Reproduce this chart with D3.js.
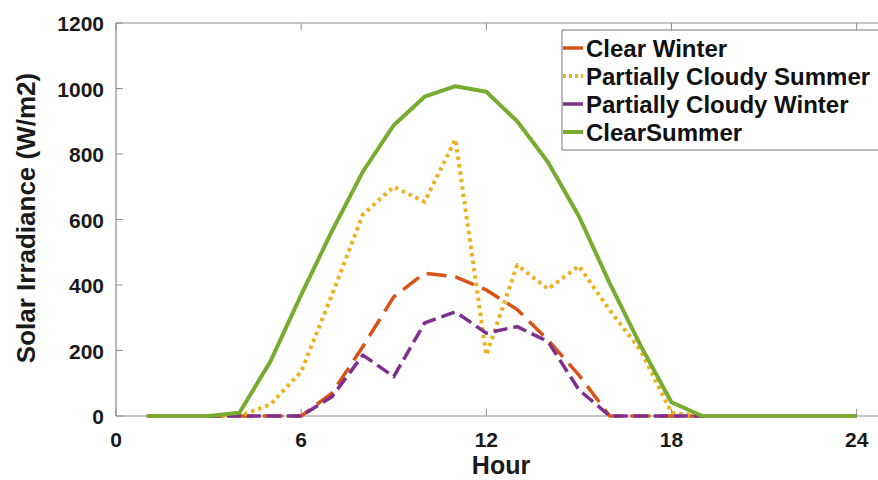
<!DOCTYPE html>
<html>
<head>
<meta charset="utf-8">
<script src="https://cdn.jsdelivr.net/npm/d3@7"></script>
<style>
  html, body { margin: 0; padding: 0; background: #fff; }
  svg { display: block; font-family: "Liberation Sans", Arial, sans-serif; }
</style>
</head>
<body>
<svg id="chart" width="878" height="480"></svg>
<script>
const hours = [1,2,3,4,5,6,7,8,9,10,11,12,13,14,15,16,17,18,19,20,21,22,23,24];
const clearWinter = [0,0,0,0,0,0,70,212,364,436,425,385,325,232,125,0,0,0,0,0,0,0,0,0];
const partlyCloudySummer = [0,0,0,0,35,135,370,615,700,654,845,186,461,388,458,323,200,10,0,0,0,0,0,0];
const partlyCloudyWinter = [0,0,0,0,0,0,59,186,120,284,318,253,273,227,80,0,0,0,0,0,0,0,0,0];
const clearSummer = [0,0,0,10,166,370,565,746,888,975,1007,990,900,775,610,405,215,42,0,0,0,0,0,0];
const seriesNames = ["Clear Winter","Partially Cloudy Summer","Partially Cloudy Winter","ClearSummer"];
const xTicks = [0,6,12,18,24];
const yTicks = [0,200,400,600,800,1000,1200];

const series = [
  {name: seriesNames[0], values: clearWinter, color: "#D95319", dash: "20,9", legDash: null, width: 3.5},
  {name: seriesNames[1], values: partlyCloudySummer, color: "#EDB120", dash: "3.5,4", legDash: "3,3", width: 4},
  {name: seriesNames[2], values: partlyCloudyWinter, color: "#7E2F8E", dash: "14,6", legDash: null, width: 3.5},
  {name: seriesNames[3], values: clearSummer, color: "#77AC30", dash: null, legDash: null, width: 4}
];

const svg = d3.select("#chart");
const plotLeft = 116, plotTop = 23, plotBottom = 416, pxPerHour = 30.86;
const x = d3.scaleLinear().domain([0, 25]).range([plotLeft, plotLeft + 25 * pxPerHour]);
const y = d3.scaleLinear().domain([0, 1200]).range([plotBottom, plotTop]);
const axisColor = "#8c8c8c";

// box lines
svg.append("line").attr("x1", plotLeft).attr("x2", 900).attr("y1", plotTop).attr("y2", plotTop).attr("stroke", axisColor).attr("stroke-width", 1.2);
svg.append("line").attr("x1", plotLeft).attr("x2", 900).attr("y1", plotBottom).attr("y2", plotBottom).attr("stroke", axisColor).attr("stroke-width", 1.2);
svg.append("line").attr("x1", plotLeft).attr("x2", plotLeft).attr("y1", plotTop).attr("y2", plotBottom).attr("stroke", axisColor).attr("stroke-width", 1.2);

// ticks (inward)
const tl = 7;
xTicks.forEach(t => {
  svg.append("line").attr("x1", x(t)).attr("x2", x(t)).attr("y1", plotBottom).attr("y2", plotBottom - tl).attr("stroke", axisColor);
  svg.append("line").attr("x1", x(t)).attr("x2", x(t)).attr("y1", plotTop).attr("y2", plotTop + tl).attr("stroke", axisColor);
});
yTicks.forEach(t => {
  svg.append("line").attr("x1", plotLeft).attr("x2", plotLeft + tl).attr("y1", y(t)).attr("y2", y(t)).attr("stroke", axisColor);
});

// tick labels
svg.append("g").selectAll("text").data(xTicks).join("text")
  .attr("x", d => x(d)).attr("y", 447)
  .attr("text-anchor", "middle").attr("font-size", 21).attr("font-weight", "bold").attr("fill", "#1a1a1a")
  .text(d => d);
svg.append("g").selectAll("text").data(yTicks).join("text")
  .attr("x", 104).attr("y", d => y(d) + 8)
  .attr("text-anchor", "end").attr("font-size", 21).attr("font-weight", "bold").attr("fill", "#1a1a1a")
  .text(d => d);

// axis labels
svg.append("text").attr("x", 501).attr("y", 474).attr("text-anchor", "middle")
  .attr("font-size", 25).attr("font-weight", "bold").attr("fill", "#1a1a1a").text("Hour");
svg.append("text").attr("transform", "translate(35,218) rotate(-90)").attr("text-anchor", "middle")
  .attr("font-size", 26).attr("font-weight", "bold").attr("fill", "#1a1a1a").text("Solar Irradiance (W/m2)");

// lines
const line = d3.line().x((d, i) => x(hours[i])).y(d => y(d));
series.forEach(s => {
  svg.append("path").datum(s.values)
    .attr("d", line).attr("fill", "none")
    .attr("stroke", s.color).attr("stroke-width", s.width)
    .attr("stroke-linejoin", "round")
    .attr("stroke-dasharray", s.dash);
});

// legend
const lg = svg.append("g");
lg.append("rect").attr("x", 562).attr("y", 30).attr("width", 340).attr("height", 120)
  .attr("fill", "#fff").attr("stroke", axisColor).attr("stroke-width", 1.2);
series.forEach((s, i) => {
  const cy = 48 + i * 28;
  lg.append("line").attr("x1", 563).attr("x2", 583).attr("y1", cy).attr("y2", cy)
    .attr("stroke", s.color).attr("stroke-width", s.width).attr("stroke-dasharray", s.legDash);
  lg.append("text").attr("x", 586).attr("y", cy + 8.5)
    .attr("font-size", 24).attr("font-weight", "bold").attr("fill", "#111").text(s.name);
});
</script>
</body>
</html>
